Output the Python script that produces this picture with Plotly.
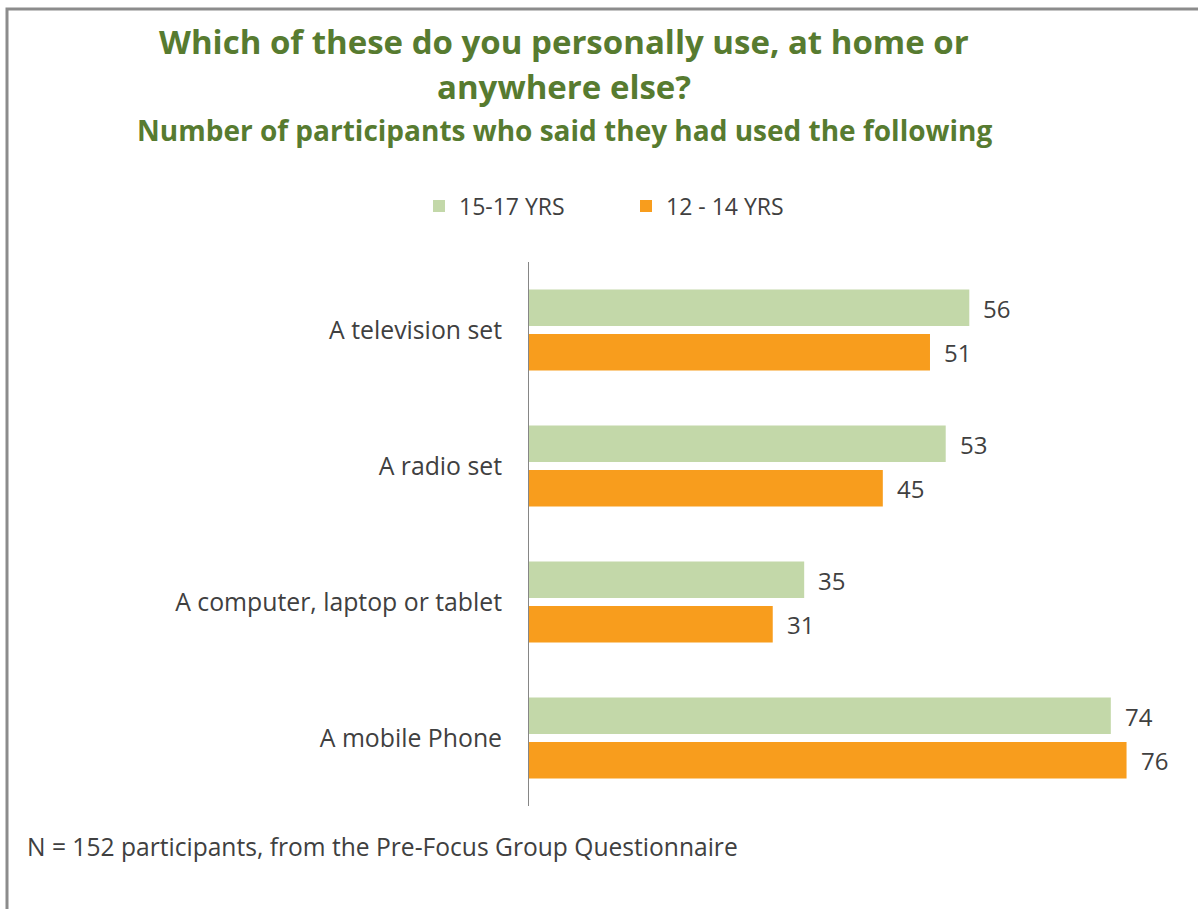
import plotly.graph_objects as go

# Survey data
categories = ["A television set", "A radio set", "A computer, laptop or tablet", "A mobile Phone"]
older_label = "15-17 YRS"
younger_label = "12 - 14 YRS"
older_values = [56, 53, 35, 74]
younger_values = [51, 45, 31, 76]

GREEN_BAR = "#C3D8A9"
ORANGE_BAR = "#F89D1D"
TITLE_GREEN = "#577B30"
TEXT_GREY = "#404040"
FONT = "Open Sans"

W, H = 1198, 909
L, R, T, B = 529, 40, 262, 103
PW, PH = W - L - R, H - T - B


def xp(px):
    return (px - L) / PW


def yp(py):
    return 1 - (py - T) / PH


fig = go.Figure()
fig.add_trace(go.Bar(
    y=categories, x=older_values, name=older_label, orientation="h",
    marker=dict(color=GREEN_BAR, line=dict(width=0)),
))
fig.add_trace(go.Bar(
    y=categories, x=younger_values, name=younger_label, orientation="h",
    marker=dict(color=ORANGE_BAR, line=dict(width=0)),
))

annotations = []
# value labels beside each bar
for trace_idx, vals in enumerate([older_values, younger_values]):
    for cat, v in zip(categories, vals):
        annotations.append(dict(
            x=v, y=cat, xref="x", yref="y", text=str(v), showarrow=False,
            xanchor="left", xshift=12, yshift=22 if trace_idx == 0 else -22,
            font=dict(family=FONT, size=24, color=TEXT_GREY),
        ))

title_font = dict(family=FONT, size=33, color=TITLE_GREEN)
annotations += [
    dict(x=xp(564), y=yp(41), xref="paper", yref="paper", showarrow=False,
         text="<b>Which of these do you personally use, at home or</b>",
         xanchor="center", yanchor="middle", font=title_font),
    dict(x=xp(564), y=yp(87), xref="paper", yref="paper", showarrow=False,
         text="<b>anywhere else?</b>",
         xanchor="center", yanchor="middle", font=title_font),
    dict(x=xp(564), y=yp(130), xref="paper", yref="paper", showarrow=False,
         text="<b>Number of participants who said they had used the following</b>",
         xanchor="center", yanchor="middle",
         font=dict(family=FONT, size=28, color=TITLE_GREEN)),
    dict(x=xp(25), y=yp(846), xref="paper", yref="paper", showarrow=False,
         text="N = 152 participants, from the Pre-Focus Group Questionnaire",
         xanchor="left", yanchor="middle",
         font=dict(family=FONT, size=24.6, color=TEXT_GREY)),
]

# outer frame
shapes = [dict(type="rect", xref="paper", yref="paper",
               x0=xp(7), x1=xp(1210), y0=yp(9), y1=yp(920),
               line=dict(color="#8C8C8C", width=3), fillcolor="rgba(0,0,0,0)", layer="below")]

fig.update_layout(
    width=W, height=H,
    margin=dict(l=L, r=R, t=T, b=B),
    paper_bgcolor="white", plot_bgcolor="white",
    barmode="group", bargap=0.346, bargroupgap=0.18,
    showlegend=True,
    legend=dict(orientation="h", x=xp(419), y=yp(206), xanchor="left", yanchor="middle",
                font=dict(family=FONT, size=23, color=TEXT_GREY), traceorder="normal",
                entrywidth=162, entrywidthmode="pixels"),
    xaxis=dict(range=[0, 80], showgrid=False, showticklabels=False, zeroline=False,
               showline=False, ticks=""),
    yaxis=dict(autorange="reversed", showgrid=False, showline=True, linecolor="#868686",
               linewidth=1, ticks="", ticklabelstandoff=21,
               tickfont=dict(family=FONT, size=24.8, color=TEXT_GREY)),
    annotations=annotations,
    shapes=shapes,
    font=dict(family=FONT),
)

fig.write_html("out.html")
